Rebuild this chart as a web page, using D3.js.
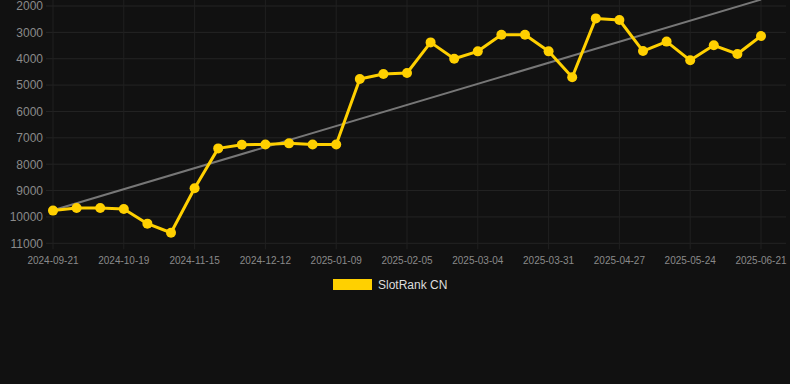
<!DOCTYPE html>
<html>
<head>
<meta charset="utf-8">
<script src="https://cdn.jsdelivr.net/npm/d3@7"></script>
<style>
  body { margin: 0; background: #111111; }
  svg { display: block; font-family: "Liberation Sans", Arial, sans-serif; }
</style>
</head>
<body>
<div id="chart"></div>
<script>
// data
const dates = [
  "2024-09-21", "2024-09-30", "2024-10-10", "2024-10-19", "2024-10-28", "2024-11-06",
  "2024-11-15", "2024-11-24", "2024-12-03", "2024-12-12", "2024-12-21", "2024-12-31",
  "2025-01-09", "2025-01-18", "2025-01-27", "2025-02-05", "2025-02-14", "2025-02-23",
  "2025-03-04", "2025-03-13", "2025-03-22", "2025-03-31", "2025-04-09", "2025-04-18",
  "2025-04-27", "2025-05-06", "2025-05-15", "2025-05-24", "2025-06-02", "2025-06-12",
  "2025-06-21"
];
const ranks = [
  9760, 9660, 9660, 9700, 10255, 10600,
  8910, 7400, 7260, 7250, 7210, 7250,
  7250, 4770, 4580, 4540, 3380, 4000,
  3720, 3090, 3090, 3720, 4700, 2470,
  2530, 3710, 3350, 4060, 3490, 3820,
  3140
];
const yTicks = [2000, 3000, 4000, 5000, 6000, 7000, 8000, 9000, 10000, 11000];
const seriesName = "SlotRank CN";

const width = 790, height = 384;
const lineColor = "#ffd000";

const svg = d3.select("#chart").append("svg")
  .attr("width", width)
  .attr("height", height);

svg.append("rect").attr("width", width).attr("height", height).attr("fill", "#111111");

const x = d3.scalePoint().domain(dates).range([53, 761]);
const y = d3.scaleLinear().domain([2000, 11000]).range([6, 243.3]);

const shownDates = dates.filter((d, i) => i % 3 === 0);

// grid
const grid = svg.append("g");
grid.selectAll(".hg").data(yTicks).enter().append("line")
  .attr("x1", 46).attr("x2", 786)
  .attr("y1", d => y(d)).attr("y2", d => y(d))
  .attr("stroke", "#242424").attr("stroke-width", 1);
grid.selectAll(".vg").data(shownDates).enter().append("line")
  .attr("x1", d => x(d)).attr("x2", d => x(d))
  .attr("y1", 0).attr("y2", y(11000) + 6)
  .attr("stroke", "#202020").attr("stroke-width", 1);

// y axis labels
svg.append("g").selectAll("text").data(yTicks).enter().append("text")
  .attr("x", 43)
  .attr("y", d => y(d))
  .attr("dy", "0.36em")
  .attr("text-anchor", "end")
  .attr("fill", "#8a8a8a")
  .attr("font-size", 12)
  .text(d => d);

// x axis labels
svg.append("g").selectAll("text").data(shownDates).enter().append("text")
  .attr("x", d => x(d))
  .attr("y", 260)
  .attr("dy", "0.35em")
  .attr("text-anchor", "middle")
  .attr("fill", "#8a8a8a")
  .attr("font-size", 10)
  .text(d => d);

// trend line (least squares over the points)
const n = ranks.length;
const meanI = d3.mean(ranks, (d, i) => i);
const meanV = d3.mean(ranks);
let sxy = 0, sxx = 0;
ranks.forEach((v, i) => { sxy += (i - meanI) * (v - meanV); sxx += (i - meanI) * (i - meanI); });
const slope = sxy / sxx;
const icpt = meanV - slope * meanI;
svg.append("line")
  .attr("x1", x(dates[0])).attr("y1", y(icpt))
  .attr("x2", x(dates[n - 1])).attr("y2", y(icpt + slope * (n - 1)))
  .attr("stroke", "#777777").attr("stroke-width", 2);

// series
const line = d3.line()
  .x((d, i) => x(dates[i]))
  .y(d => y(d));

svg.append("path")
  .datum(ranks)
  .attr("d", line)
  .attr("fill", "none")
  .attr("stroke", lineColor)
  .attr("stroke-width", 3)
  .attr("stroke-linejoin", "round");

svg.append("g").selectAll("circle").data(ranks).enter().append("circle")
  .attr("cx", (d, i) => x(dates[i]))
  .attr("cy", d => y(d))
  .attr("r", 5)
  .attr("fill", lineColor);

// legend
const legend = svg.append("g").attr("transform", "translate(333,279)");
legend.append("rect").attr("width", 39).attr("height", 11).attr("fill", lineColor);
legend.append("text")
  .attr("x", 45).attr("y", 5.5).attr("dy", "0.35em")
  .attr("fill", "#dddddd").attr("font-size", 12)
  .text(seriesName);
</script>
</body>
</html>
